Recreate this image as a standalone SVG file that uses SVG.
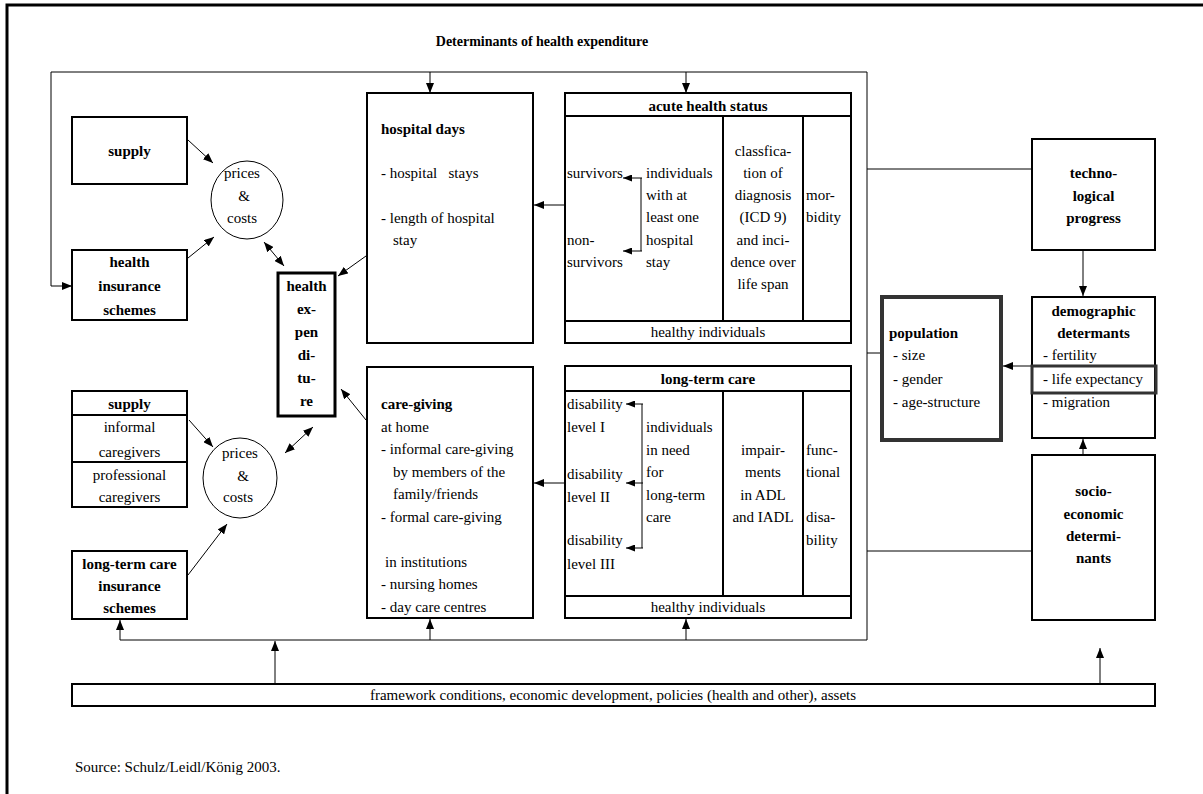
<svg xmlns="http://www.w3.org/2000/svg" width="1203" height="794" viewBox="0 0 1203 794">
<style>
.t{font-family:"Liberation Serif","Times New Roman",serif;font-size:15px;fill:#000}
.b{font-weight:bold}
.c{text-anchor:middle}
.box{fill:#fff;stroke:#000;stroke-width:2}
.ln{fill:none;stroke:#000;stroke-width:1}
.arr{fill:none;stroke:#000;stroke-width:1;marker-end:url(#ah)}
.arr2{fill:none;stroke:#000;stroke-width:1;marker-end:url(#ah);marker-start:url(#ah)}
.sarr{fill:none;stroke:#000;stroke-width:1;marker-end:url(#sah)}
</style>
<defs>
<marker id="ah" viewBox="0 0 10 8" refX="10" refY="4" markerWidth="10" markerHeight="8" orient="auto-start-reverse" markerUnits="userSpaceOnUse"><path d="M0,0 L10,4 L0,8 z" fill="#000"/></marker>
<marker id="sah" viewBox="0 0 9 7" refX="9" refY="3.5" markerWidth="9" markerHeight="7" orient="auto" markerUnits="userSpaceOnUse"><path d="M0,0 L9,3.5 L0,7 z" fill="#000"/></marker>
</defs>
<rect width="1203" height="794" fill="#fff"/>
<g id="frame">
<path d="M7,794 V5 H1203" fill="none" stroke="#000" stroke-width="3"/>
<text class="t b c" x="542" y="46" style="font-size:14px">Determinants of health expenditure</text>
</g>
<g id="connectors">
<path class="arr2" d="M72,286 H51 V72 H867 V640 H120 V620"/>
<path class="arr" d="M430,72 V93"/>
<path class="arr" d="M686,72 V93"/>
<path class="arr" d="M430,640 V619"/>
<path class="arr" d="M686,640 V619"/>
<path class="arr" d="M275,684 V641"/>
<path class="arr" d="M1100,684 V648"/>
<path class="arr" d="M565,205 H534"/>
<path class="arr" d="M565,483 H534"/>
<path class="ln" d="M867,169 H1032"/>
<path class="ln" d="M867,353 H882"/>
<path class="ln" d="M867,551 H1032"/>
<path class="arr" d="M1083,250 V296"/>
<path class="arr" d="M1031,366 H1003"/>
<path class="arr" d="M1083,455 V439"/>
<path class="arr" d="M188,140 L213,163"/>
<path class="arr" d="M188,258 L214,237"/>
<path class="arr2" d="M264,242 L284,266"/>
<path class="arr" d="M366,256 L338,276"/>
<path class="arr" d="M366,420 L341,389"/>
<path class="arr" d="M189,420 L213,447"/>
<path class="arr" d="M188,575 L227,524"/>
<path class="arr2" d="M285,453 L313,427"/>
</g>
<g id="supply1">
<rect class="box" x="72" y="117" width="115" height="67"/>
<text class="t b c" x="129.5" y="156">supply</text>
</g>
<g id="prices1">
<ellipse cx="247" cy="200" rx="36" ry="39" fill="#fff" stroke="#000" stroke-width="1"/>
<text class="t c" x="242" y="178">prices</text>
<text class="t c" x="244" y="201">&amp;</text>
<text class="t c" x="242" y="223">costs</text>
</g>
<g id="health-insurance">
<rect class="box" x="72" y="250" width="115" height="70"/>
<text class="t b c" x="129.5" y="267">health</text>
<text class="t b c" x="129.5" y="291">insurance</text>
<text class="t b c" x="129.5" y="315">schemes</text>
</g>
<g id="health-expenditure">
<rect x="278" y="273" width="57" height="143" fill="#fff" stroke="#000" stroke-width="3"/>
<text class="t b c" x="306.5" y="291">health</text>
<text class="t b c" x="306.5" y="314">ex-</text>
<text class="t b c" x="306.5" y="337">pen</text>
<text class="t b c" x="306.5" y="360">di-</text>
<text class="t b c" x="306.5" y="383">tu-</text>
<text class="t b c" x="306.5" y="406">re</text>
</g>
<g id="supply2">
<rect class="box" x="72" y="391" width="115" height="116"/>
<path d="M72,415 H187 M72,462 H187" stroke="#000" stroke-width="2"/>
<text class="t b c" x="129.5" y="409">supply</text>
<text class="t c" x="129.5" y="432">informal</text>
<text class="t c" x="129.5" y="457">caregivers</text>
<text class="t c" x="129.5" y="480">professional</text>
<text class="t c" x="129.5" y="502">caregivers</text>
</g>
<g id="prices2">
<ellipse cx="240" cy="478" rx="37" ry="40" fill="#fff" stroke="#000" stroke-width="1"/>
<text class="t c" x="240" y="458">prices</text>
<text class="t c" x="243" y="481">&amp;</text>
<text class="t c" x="238" y="502">costs</text>
</g>
<g id="ltc-insurance">
<rect class="box" x="72" y="551" width="115" height="68"/>
<text class="t b c" x="129.5" y="569">long-term care</text>
<text class="t b c" x="129.5" y="591">insurance</text>
<text class="t b c" x="129.5" y="613">schemes</text>
</g>
<g id="hospital-days">
<rect class="box" x="367" y="93" width="166" height="250"/>
<text class="t b" x="381" y="134">hospital days</text>
<text class="t" x="381" y="178" xml:space="preserve">- hospital   stays</text>
<text class="t" x="381" y="223">- length of hospital</text>
<text class="t" x="393" y="245">stay</text>
</g>
<g id="acute-health-status">
<rect class="box" x="565" y="93" width="286" height="250"/>
<path d="M565,116 H851 M565,321 H851 M723,116 V321 M803,116 V321" stroke="#000" stroke-width="2"/>
<text class="t b c" x="708" y="111">acute health status</text>
<text class="t c" x="708" y="337">healthy individuals</text>
<text class="t" x="567" y="178">survivors</text>
<text class="t" x="567" y="245">non-</text>
<text class="t" x="567" y="267">survivors</text>
<path class="ln" d="M641,178 V251"/>
<path class="sarr" d="M642,178 H623"/>
<path class="sarr" d="M642,251 H623"/>
<text class="t" x="646" y="178">individuals</text>
<text class="t" x="646" y="200">with at</text>
<text class="t" x="646" y="222">least one</text>
<text class="t" x="646" y="245">hospital</text>
<text class="t" x="646" y="267">stay</text>
<text class="t c" x="763" y="156">classfica-</text>
<text class="t c" x="763" y="178">tion of</text>
<text class="t c" x="763" y="200">diagnosis</text>
<text class="t c" x="763" y="222">(ICD 9)</text>
<text class="t c" x="763" y="245">and inci-</text>
<text class="t c" x="763" y="267">dence over</text>
<text class="t c" x="763" y="289">life span</text>
<text class="t" x="806" y="200">mor-</text>
<text class="t" x="806" y="222">bidity</text>
</g>
<g id="care-giving">
<rect class="box" x="367" y="367" width="166" height="251"/>
<text class="t b" x="381" y="409">care-giving</text>
<text class="t" x="381" y="431.5">at home</text>
<text class="t" x="381" y="454">- informal care-giving</text>
<text class="t" x="393" y="476.5">by members of the</text>
<text class="t" x="393" y="499">family/friends</text>
<text class="t" x="381" y="521.5">- formal care-giving</text>
<text class="t" x="385" y="566.5">in institutions</text>
<text class="t" x="381" y="589">- nursing homes</text>
<text class="t" x="381" y="611.5">- day care centres</text>
</g>
<g id="long-term-care">
<rect class="box" x="565" y="366" width="286" height="252"/>
<path d="M565,391 H851 M565,596 H851 M723,391 V596 M803,391 V596" stroke="#000" stroke-width="2"/>
<text class="t b c" x="708" y="384">long-term care</text>
<text class="t c" x="708" y="612">healthy individuals</text>
<text class="t" x="567" y="409">disability</text>
<text class="t" x="567" y="432">level I</text>
<text class="t" x="567" y="479">disability</text>
<text class="t" x="567" y="502">level II</text>
<text class="t" x="567" y="545">disability</text>
<text class="t" x="567" y="569">level III</text>
<path class="ln" d="M642,404 V548"/>
<path class="sarr" d="M643,404 H626"/>
<path class="sarr" d="M643,483 H626"/>
<path class="sarr" d="M643,548 H626"/>
<text class="t" x="646" y="432">individuals</text>
<text class="t" x="646" y="454.5">in need</text>
<text class="t" x="646" y="477">for</text>
<text class="t" x="646" y="499.5">long-term</text>
<text class="t" x="646" y="522">care</text>
<text class="t c" x="763" y="454.5">impair-</text>
<text class="t c" x="763" y="477">ments</text>
<text class="t c" x="763" y="499.5">in ADL</text>
<text class="t c" x="763" y="522">and IADL</text>
<text class="t" x="806" y="454.5">func-</text>
<text class="t" x="806" y="477">tional</text>
<text class="t" x="806" y="522">disa-</text>
<text class="t" x="806" y="544.5">bility</text>
</g>
<g id="technological-progress">
<rect class="box" x="1032" y="139" width="123" height="111"/>
<text class="t b c" x="1093.5" y="178">techno-</text>
<text class="t b c" x="1093.5" y="201">logical</text>
<text class="t b c" x="1093.5" y="223">progress</text>
</g>
<g id="demographic">
<rect class="box" x="1032" y="297" width="123" height="141"/>
<text class="t b c" x="1093.5" y="316">demographic</text>
<text class="t b c" x="1093.5" y="338">determants</text>
<text class="t" x="1043" y="360">- fertility</text>
<text class="t" x="1043" y="384">- life expectancy</text>
<text class="t" x="1043" y="407">- migration</text>
<rect x="1032" y="366" width="124" height="27" fill="none" stroke="#333" stroke-width="3"/>
</g>
<g id="population">
<rect x="882" y="297" width="119" height="143" fill="#fff" stroke="#333" stroke-width="4"/>
<text class="t b" x="889" y="338">population</text>
<text class="t" x="893" y="360">- size</text>
<text class="t" x="893" y="384">- gender</text>
<text class="t" x="893" y="407">- age-structure</text>
</g>
<g id="socio-economic">
<rect class="box" x="1032" y="455" width="123" height="165"/>
<text class="t b c" x="1093.5" y="496">socio-</text>
<text class="t b c" x="1093.5" y="519">economic</text>
<text class="t b c" x="1093.5" y="541">determi-</text>
<text class="t b c" x="1093.5" y="563">nants</text>
</g>
<g id="framework">
<rect class="box" x="72" y="684" width="1083" height="22"/>
<text class="t c" x="613" y="700">framework conditions, economic development, policies (health and other), assets</text>
</g>
<g id="source">
<text class="t" x="75" y="772">Source: Schulz/Leidl/König 2003.</text>
</g>
</svg>
